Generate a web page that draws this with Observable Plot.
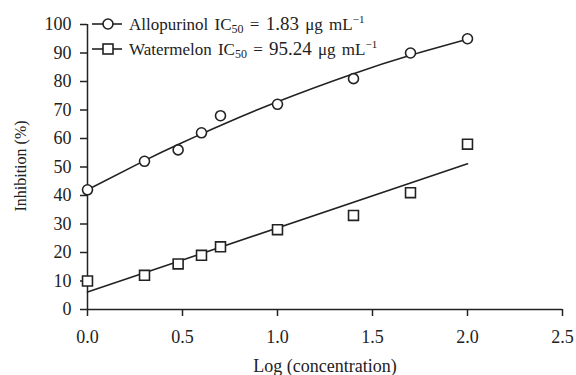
<!DOCTYPE html>
<html>
<head>
<meta charset="utf-8">
<script src="https://cdn.jsdelivr.net/npm/d3@7"></script>
<script src="https://cdn.jsdelivr.net/npm/@observablehq/plot@0.6"></script>
<style>
  body { margin: 0; background: #fff; }
  #wrap { position: relative; width: 576px; height: 375px; font-family: "Liberation Serif", serif; color: #222; }
  #wrap > svg { position: absolute; left: 0; top: 0; }
  .leg { position: absolute; left: 92px; height: 24px; display: flex; align-items: center; font-size: 17px; word-spacing: 2px; white-space: nowrap; }
  .leg svg { margin-right: 7px; }
  .leg sub { font-size: 12px; vertical-align: -3px; line-height: 0; }
  .leg sup { font-size: 11px; vertical-align: 7px; line-height: 0; }
  .leg .num { font-size: 19px; }
  .ytitle { position: absolute; left: 21px; top: 166px; font-size: 16px; line-height: 16px; white-space: nowrap;
            transform: translate(-50%, -50%) rotate(-90deg); font-family: "Liberation Serif", serif; }
</style>
</head>
<body>
<div id="wrap"></div>
<script>
// ---- data ----
const logConc = [0, 0.3, 0.477, 0.6, 0.7, 1.0, 1.4, 1.7, 2.0];
const allopurinol = [42, 52, 56, 62, 68, 72, 81, 90, 95];
const watermelon = [10, 12, 16, 19, 22, 28, 33, 41, 58];
const xTicks = [0, 0.5, 1.0, 1.5, 2.0, 2.5];
const yTicks = [0, 10, 20, 30, 40, 50, 60, 70, 80, 90, 100];
const seriesNames = ["Allopurinol", "Watermelon"];
const ic50 = ["1.83", "95.24"];
const xTitle = "Log (concentration)";
const yTitle = "Inhibition (%)";

const allo = logConc.map((x, i) => ({x, y: allopurinol[i]}));
const water = logConc.map((x, i) => ({x, y: watermelon[i]}));

// quadratic least-squares fit for the allopurinol trend curve
function quadFit(pts) {
  let S = [0,0,0,0,0], T = [0,0,0];
  for (const {x, y} of pts) {
    for (let k = 0; k < 5; k++) S[k] += Math.pow(x, k);
    for (let k = 0; k < 3; k++) T[k] += y * Math.pow(x, k);
  }
  const M = [[S[0],S[1],S[2],T[0]],[S[1],S[2],S[3],T[1]],[S[2],S[3],S[4],T[2]]];
  for (let i = 0; i < 3; i++) {
    for (let j = i + 1; j < 3; j++) {
      const f = M[j][i] / M[i][i];
      for (let k = i; k < 4; k++) M[j][k] -= f * M[i][k];
    }
  }
  const c = [0,0,0];
  for (let i = 2; i >= 0; i--) {
    let s = M[i][3];
    for (let k = i + 1; k < 3; k++) s -= M[i][k] * c[k];
    c[i] = s / M[i][i];
  }
  return c;
}
const q = quadFit(allo);
const alloFit = logConc.map(x => ({x, y: q[0] + q[1]*x + q[2]*x*x}));

const ink = "#222";
const serif = "Liberation Serif";
const plot = Plot.plot({
  width: 576,
  height: 375,
  marginLeft: 87,
  marginRight: 14,
  marginTop: 24,
  marginBottom: 66,
  style: {fontFamily: serif, fontSize: "18px", color: ink},
  x: {domain: [0, 2.5]},
  y: {domain: [0, 100]},
  marks: [
    Plot.axisX({ticks: xTicks, tickFormat: d3.format(".1f"), tickSize: 7, tickPadding: 14, strokeWidth: 1.5,
      label: xTitle, labelAnchor: "center", labelOffset: 62, labelArrow: "none",
      fontSize: 18, fontFamily: serif}),
    Plot.axisY({ticks: yTicks, tickSize: 7, tickPadding: 9, strokeWidth: 1.5,
      label: null, fontSize: 18, fontFamily: serif}),
    Plot.ruleY([0], {stroke: ink, strokeWidth: 1.5}),
    Plot.ruleX([0], {stroke: ink, strokeWidth: 1.5}),
    Plot.line(alloFit, {x: "x", y: "y", curve: "natural", stroke: ink, strokeWidth: 1.6}),
    Plot.linearRegressionY(water, {x: "x", y: "y", ci: 0, stroke: ink, strokeWidth: 1.6}),
    Plot.dot(allo, {x: "x", y: "y", r: 5, symbol: "circle", fill: "white", stroke: ink, strokeWidth: 1.6}),
    Plot.dot(water, {x: "x", y: "y", r: 5.6, symbol: "square", fill: "white", stroke: ink, strokeWidth: 1.6})
  ]
});

const wrap = document.getElementById("wrap");
wrap.appendChild(plot);

// rotated y-axis title
const yt = document.createElement("div");
yt.className = "ytitle";
yt.textContent = yTitle;
wrap.appendChild(yt);

// legend
const legendTops = [12, 36.5];
seriesNames.forEach((name, i) => {
  const row = document.createElement("div");
  row.className = "leg";
  row.style.top = legendTops[i] + "px";
  const sym = i === 0
    ? `<circle cx="16" cy="12" r="5" fill="white" stroke="${ink}" stroke-width="1.6"/>`
    : `<rect x="11" y="7" width="10" height="10" fill="white" stroke="${ink}" stroke-width="1.6"/>`;
  row.innerHTML = `<svg width="30" height="24"><line x1="0" x2="30" y1="12" y2="12" stroke="${ink}" stroke-width="1.6"/>${sym}</svg>` +
    `<span>${name} IC<sub>50</sub> = <span class="num">${ic50[i]}</span> μg mL<sup>−1</sup></span>`;
  wrap.appendChild(row);
});
</script>
</body>
</html>
